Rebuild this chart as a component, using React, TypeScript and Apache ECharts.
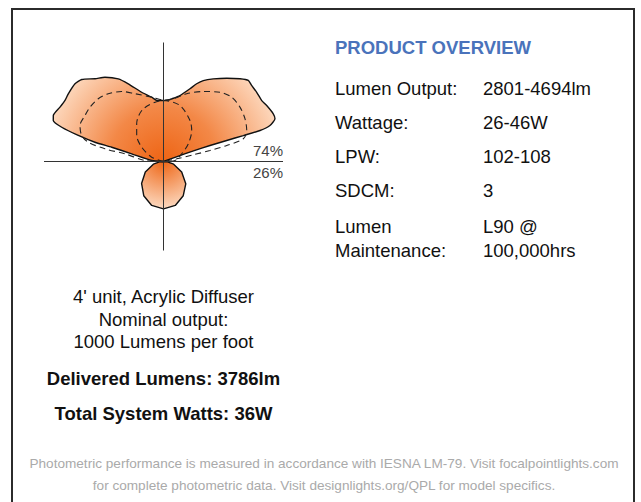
import React, { useEffect, useRef } from 'react';
import * as echarts from 'echarts';

// Photometric curves: [radius, angle] with angle 0 = up, negative = left, positive = right
const upperOutline: [number, number][] = [
  [0, -90], [11.8, -85], [32.7, -76.4], [53.7, -74.6], [71.2, -74.3], [89.1, -73.0], [107.4, -71.4],
  [117.6, -69.6], [119.4, -67.3], [116.9, -62.3], [115.9, -58.2], [116.8, -54.6], [117.8, -48.7],
  [115.8, -44.9], [107.4, -39.6], [102.6, -34.8], [94.2, -28.7], [85.3, -24.4], [72.6, -17.5],
  [65.4, -10.4], [61.3, -6], [61, 0], [61.5, 4], [63.2, 7.5], [68, 14], [77.4, 20], [84.5, 23.1],
  [90.2, 26.2], [96.5, 31.1], [104.6, 37.2], [112.7, 42.8], [117.3, 46.3], [116.4, 49.2],
  [116.1, 53.4], [115.6, 58.2], [117.4, 61.5], [119.7, 66.5], [119.4, 69.0], [112.4, 71.3],
  [101.4, 72.2], [83.9, 72.0], [66.6, 71.6], [49.2, 71], [31.8, 70.5], [14.5, 70], [0, 90],
];

const lowerOutline: [number, number][] = [
  [0, 90], [4, 95], [10.5, 105], [21, 120], [31.5, 135], [39.5, 150], [45.5, 165], [47.3, 180],
  [45.5, -165], [39.5, -150], [31, -135], [21, -120], [10.5, -105], [4, -95], [0, -90],
];

const outerDashed: [number, number][] = [
  [0, -90], [18.5, -87], [39.3, -78.7], [59.9, -77.8], [77.6, -75.6], [85.8, -72.4], [90.9, -66.7],
  [91, -59.6], [91.4, -53.5], [90.5, -46.1], [87.4, -39.2], [81.5, -30.8], [73.5, -22.8],
  [65.4, -10.4], [61.5, 0], [63.5, 8.9], [71.6, 18.9], [80.5, 29.6], [89.4, 39.2], [93.7, 46.7],
  [93.8, 54.6], [92, 62.4], [88.8, 69.6], [83, 74.1], [65.2, 75.8], [47.8, 76.7], [30.5, 77.3],
  [13.5, 78.4], [0, 90],
];

const innerDashed: [number, number][] = [
  [0, -90], [12.6, -70], [26.1, -56.7], [37.3, -45.9], [46.3, -35.4], [56.4, -21], [61, 0],
  [58.4, 16.4], [48.8, 32.9], [41.9, 42.3], [30.5, 54.5], [19.8, 67], [11.5, 85], [0, 90],
];

const horizontalAxis: [number, number][] = [[119.5, -90], [119.5, 90]];
const verticalAxis: [number, number][] = [[119, 0], [89, 180]];

const upPercent = '74%';
const downPercent = '26%';

const overviewTitle = 'PRODUCT OVERVIEW';
const overviewLabels = ['Lumen Output:', 'Wattage:', 'LPW:', 'SDCM:', 'Lumen', 'Maintenance:'];
const overviewValues = ['2801-4694lm', '26-46W', '102-108', '3', 'L90 @', '100,000hrs'];
const overviewY = [88, 122, 156, 190, 226, 250];

const descLines = ['4\' unit, Acrylic Diffuser', 'Nominal output:', '1000 Lumens per foot'];
const descY = [296, 319, 341];
const boldLines = ['Delivered Lumens: 3786lm', 'Total System Watts: 36W'];
const boldY = [378, 413];
const footerLines = [
  'Photometric performance is measured in accordance with IESNA LM-79. Visit focalpointlights.com',
  'for complete photometric data. Visit designlights.org/QPL for model specifics.',
];
const footerY = [463, 485];

const FONT = '"Liberation Sans", Arial, Helvetica, sans-serif';
const CX = 163.5;
const CY = 161.5;
const FS = 18.5;

export default function App() {
  const ref = useRef<HTMLDivElement>(null);
  useEffect(() => {
    document.body.style.margin = '0';
    if (!ref.current) return;
    const chart = echarts.init(ref.current, undefined, { renderer: 'svg' });
    const upperFill = {
      type: 'radial', x: CX, y: CY, r: 120, global: true,
      colorStops: [
        { offset: 0, color: '#ee6414' },
        { offset: 0.45, color: '#f38847' },
        { offset: 1, color: '#fdd8bd' },
      ],
    };
    const lowerFill = {
      type: 'radial', x: CX, y: CY, r: 50, global: true,
      colorStops: [
        { offset: 0, color: '#ee6616' },
        { offset: 1, color: '#fde0ca' },
      ],
    };
    const base = {
      type: 'line', coordinateSystem: 'polar', symbol: 'none', showSymbol: false, silent: true,
      clip: false,
    };
    const texts: any[] = [];
    texts.push({
      type: 'text', style: { text: overviewTitle, x: 335, y: 47, font: `bold ${FS}px ${FONT}`, fill: '#4a73bb', textVerticalAlign: 'middle' },
    });
    overviewLabels.forEach((t, i) => {
      texts.push({ type: 'text', style: { text: t, x: 335, y: overviewY[i], font: `${FS}px ${FONT}`, fill: '#111', textVerticalAlign: 'middle' } });
      texts.push({ type: 'text', style: { text: overviewValues[i], x: 483, y: overviewY[i], font: `${FS}px ${FONT}`, fill: '#111', textVerticalAlign: 'middle' } });
    });
    descLines.forEach((t, i) => {
      texts.push({ type: 'text', style: { text: t, x: CX, y: descY[i], font: `${FS}px ${FONT}`, fill: '#111', textAlign: 'center', textVerticalAlign: 'middle' } });
    });
    boldLines.forEach((t, i) => {
      texts.push({ type: 'text', style: { text: t, x: CX, y: boldY[i], font: `bold ${FS}px ${FONT}`, fill: '#111', textAlign: 'center', textVerticalAlign: 'middle' } });
    });
    footerLines.forEach((t, i) => {
      texts.push({ type: 'text', style: { text: t, x: 324, y: footerY[i], font: `13.6px ${FONT}`, fill: '#aaaaaa', textAlign: 'center', textVerticalAlign: 'middle' } });
    });
    texts.push({ type: 'text', style: { text: upPercent, x: 283, y: 150, font: `15px ${FONT}`, fill: '#444', textAlign: 'right', textVerticalAlign: 'middle' } });
    texts.push({ type: 'text', style: { text: downPercent, x: 283, y: 172, font: `15px ${FONT}`, fill: '#444', textAlign: 'right', textVerticalAlign: 'middle' } });
    texts.push({
      type: 'rect', shape: { x: 12, y: 9, width: 622, height: 520 },
      style: { fill: 'none', stroke: '#2b2b2b', lineWidth: 2 },
    });

    chart.setOption({
      animation: false,
      backgroundColor: '#ffffff',
      polar: { center: [CX, CY], radius: 125 },
      angleAxis: { type: 'value', min: -180, max: 180, startAngle: 270, clockwise: true, show: false },
      radiusAxis: { type: 'value', min: 0, max: 125, show: false },
      series: [
        { ...base, data: upperOutline, smooth: 0.2, lineStyle: { color: '#111', width: 1.4 }, areaStyle: { color: upperFill, opacity: 1 } },
        { ...base, data: lowerOutline, lineStyle: { color: '#111', width: 1.4 }, areaStyle: { color: lowerFill, opacity: 1 } },
        { ...base, data: outerDashed, smooth: 0.3, lineStyle: { color: '#222', width: 1.1, type: [6, 4] } },
        { ...base, data: innerDashed, smooth: 0.3, lineStyle: { color: '#222', width: 1.1, type: [6, 4] } },
        { ...base, data: horizontalAxis, lineStyle: { color: '#333', width: 1 } },
        { ...base, data: verticalAxis, lineStyle: { color: '#333', width: 1 } },
      ],
      graphic: texts,
    });
    return () => chart.dispose();
  }, []);
  return <div ref={ref} style={{ position: 'fixed', left: 0, top: 0, width: 641, height: 502 }} />;
}
